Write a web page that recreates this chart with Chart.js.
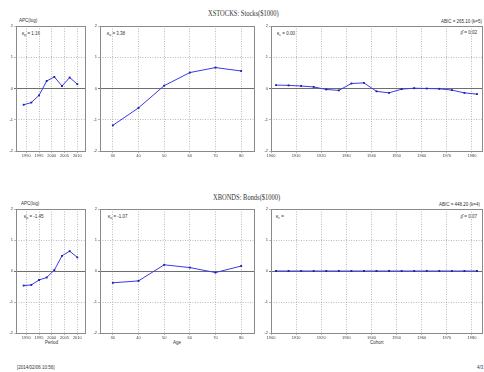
<!DOCTYPE html>
<html>
<head>
<meta charset="utf-8">
<script src="https://cdn.jsdelivr.net/npm/chart.js@4/dist/chart.umd.min.js"></script>
<style>
body{margin:0;background:#fff;width:484px;height:372px;position:relative;overflow:hidden;font-family:"Liberation Sans",Arial,sans-serif;}
.pnl{position:absolute}
.t{position:absolute;white-space:nowrap;color:#333;font-size:4.5px;line-height:1;transform:translateY(-50%)}
.t sub{font-size:3.5px;vertical-align:-1px;line-height:0}
.r{transform:translateY(-50%);text-align:right}
.ttl{font-family:"Liberation Serif",serif;font-size:9px;color:#333;transform-origin:0 50%;transform:translateY(-50%) scaleX(0.72)}
</style>
</head>
<body>

<div class="t ttl" style="left:208px;top:13px">XSTOCKS: Stocks($1000)</div>
<div class="t ttl" style="left:213px;top:197px">XBONDS: Bonds($1000)</div>

<div class="t" style="left:19px;top:21px">APC(log)</div>
<div class="t" style="left:22px;top:34px">κ<sub>p</sub> = 1.16</div>
<div class="t" style="left:107px;top:34px">κ<sub>a</sub> = 3.38</div>
<div class="t" style="left:277px;top:34px">κ<sub>c</sub> = 0.00</div>
<div class="t r" style="right:7px;top:33px">ρ̂ = 0.02</div>
<div class="t r" style="right:2px;top:22px">ABIC = 265.10 (k=5)</div>

<div class="t" style="left:21px;top:204px">APC(log)</div>
<div class="t" style="left:24px;top:217px">κ<sub>p</sub> = -1.45</div>
<div class="t" style="left:108px;top:217px">κ<sub>a</sub> = -1.07</div>
<div class="t" style="left:276px;top:217px">κ<sub>c</sub> =</div>
<div class="t r" style="right:7px;top:217px">ρ̂ = 0.07</div>
<div class="t r" style="right:4px;top:205px">ABIC = 448.20 (k=4)</div>

<div class="t" style="left:45px;top:343px">Period</div>
<div class="t" style="left:173px;top:343px">Age</div>
<div class="t" style="left:370px;top:343px">Cohort</div>
<div class="t" style="left:17px;top:368px">[2014/02/06 10:56]</div>
<div class="t" style="left:477px;top:368px">4/3</div>

<script>
// data
var periods = [1989, 1992, 1995, 1998, 2001, 2004, 2007, 2010];
var ages = [30, 40, 50, 60, 70, 80];
var cohorts = [1902, 1907, 1912, 1917, 1922, 1927, 1932, 1937, 1942, 1947, 1952, 1957, 1962, 1967, 1972, 1977, 1982];

var stockPeriod = [-0.52, -0.45, -0.22, 0.24, 0.37, 0.08, 0.35, 0.14];
var stockAge = [-1.18, -0.62, 0.09, 0.51, 0.67, 0.56];
var stockCohort = [0.11, 0.10, 0.08, 0.05, -0.03, -0.06, 0.16, 0.18, -0.09, -0.14, -0.02, 0.01, 0.00, -0.01, -0.05, -0.14, -0.18];

var bondPeriod = [-0.47, -0.45, -0.29, -0.21, 0.03, 0.49, 0.64, 0.44];
var bondAge = [-0.38, -0.32, 0.20, 0.11, -0.05, 0.16];
var bondCohort = [0, 0, 0, 0, 0, 0, 0, 0, 0, 0, 0, 0, 0, 0, 0, 0, 0];

var yTicks = [-2, -1, 0, 1, 2];
var periodTicks = [1990, 1995, 2000, 2005, 2010];
var ageTicks = [30, 40, 50, 60, 70, 80];
var cohortTicks = [1900, 1910, 1920, 1930, 1940, 1950, 1960, 1970, 1980];

// frame around plot area
var framePlugin = {
  id: "frame",
  afterDraw: function (chart) {
    var a = chart.chartArea, c = chart.ctx;
    c.save();
    c.strokeStyle = "#8a8a8a";
    c.lineWidth = 1;
    c.strokeRect(Math.round(a.left) + 0.5, Math.round(a.top) + 0.5, Math.round(a.right - a.left), Math.round(a.bottom - a.top));
    c.restore();
  }
};

function plain(v) { return String(v); }

function makePanel(box, xMin, xMax, xTicks, xs, ys) {
  var wrap = document.createElement("div");
  wrap.className = "pnl";
  wrap.style.left = (box.l - 14) + "px";
  wrap.style.top = (box.t - 4) + "px";
  wrap.style.width = (box.r - box.l + 18) + "px";
  wrap.style.height = (box.b - box.t + 14) + "px";
  var cv = document.createElement("canvas");
  wrap.appendChild(cv);
  document.body.appendChild(wrap);

  var pts = xs.map(function (x, i) { return { x: x, y: ys[i] }; });
  var tickFont = { size: 4, family: "Liberation Sans" };

  new Chart(cv, {
    type: "line",
    data: {
      datasets: [{
        data: pts,
        borderColor: "#3a3ae6",
        borderWidth: 1,
        pointStyle: "rect",
        pointRadius: 1.3,
        pointBackgroundColor: "#1c1ca8",
        pointBorderWidth: 0,
        tension: 0
      }]
    },
    options: {
      responsive: true,
      maintainAspectRatio: false,
      animation: false,
      layout: { padding: { top: 4, right: 4, left: 0, bottom: 0 } },
      plugins: { legend: { display: false }, tooltip: { enabled: false } },
      scales: {
        x: {
          type: "linear",
          min: xMin,
          max: xMax,
          afterBuildTicks: function (s) { s.ticks = xTicks.map(function (v) { return { value: v }; }); },
          afterFit: function (s) { s.height = 10; },
          ticks: { font: tickFont, color: "#444", padding: 0, maxRotation: 0, autoSkip: false, callback: plain },
          grid: { color: "#a8a8a8", lineWidth: 0.8, tickLength: 2 },
          border: { display: false, dash: [1, 1.5] }
        },
        y: {
          min: -2,
          max: 2,
          afterBuildTicks: function (s) { s.ticks = yTicks.map(function (v) { return { value: v }; }); },
          afterFit: function (s) { s.width = 14; },
          ticks: { font: tickFont, color: "#444", padding: 1, callback: plain },
          grid: {
            tickLength: 2,
            color: function (c) { return c.tick && c.tick.value === 0 ? "#6e6e6e" : "#a8a8a8"; },
            lineWidth: function (c) { return c.tick && c.tick.value === 0 ? 1 : 0.8; }
          },
          border: {
            display: false,
            dash: function (c) { return c.tick && c.tick.value === 0 ? [] : [1, 1.5]; }
          }
        }
      }
    },
    plugins: [framePlugin]
  });
}

var top1 = { t: 26, b: 151 };
var top2 = { t: 209, b: 333 };
var cols = [{ l: 16, r: 85 }, { l: 100, r: 254 }, { l: 271, r: 482 }];

function box(c, r) { return { l: c.l, r: c.r, t: r.t, b: r.b }; }

makePanel(box(cols[0], top1), 1986, 2013, periodTicks, periods, stockPeriod);
makePanel(box(cols[1], top1), 25, 85, ageTicks, ages, stockAge);
makePanel(box(cols[2], top1), 1900, 1984, cohortTicks, cohorts, stockCohort);
makePanel(box(cols[0], top2), 1986, 2013, periodTicks, periods, bondPeriod);
makePanel(box(cols[1], top2), 25, 85, ageTicks, ages, bondAge);
makePanel(box(cols[2], top2), 1900, 1984, cohortTicks, cohorts, bondCohort);
</script>
</body>
</html>
